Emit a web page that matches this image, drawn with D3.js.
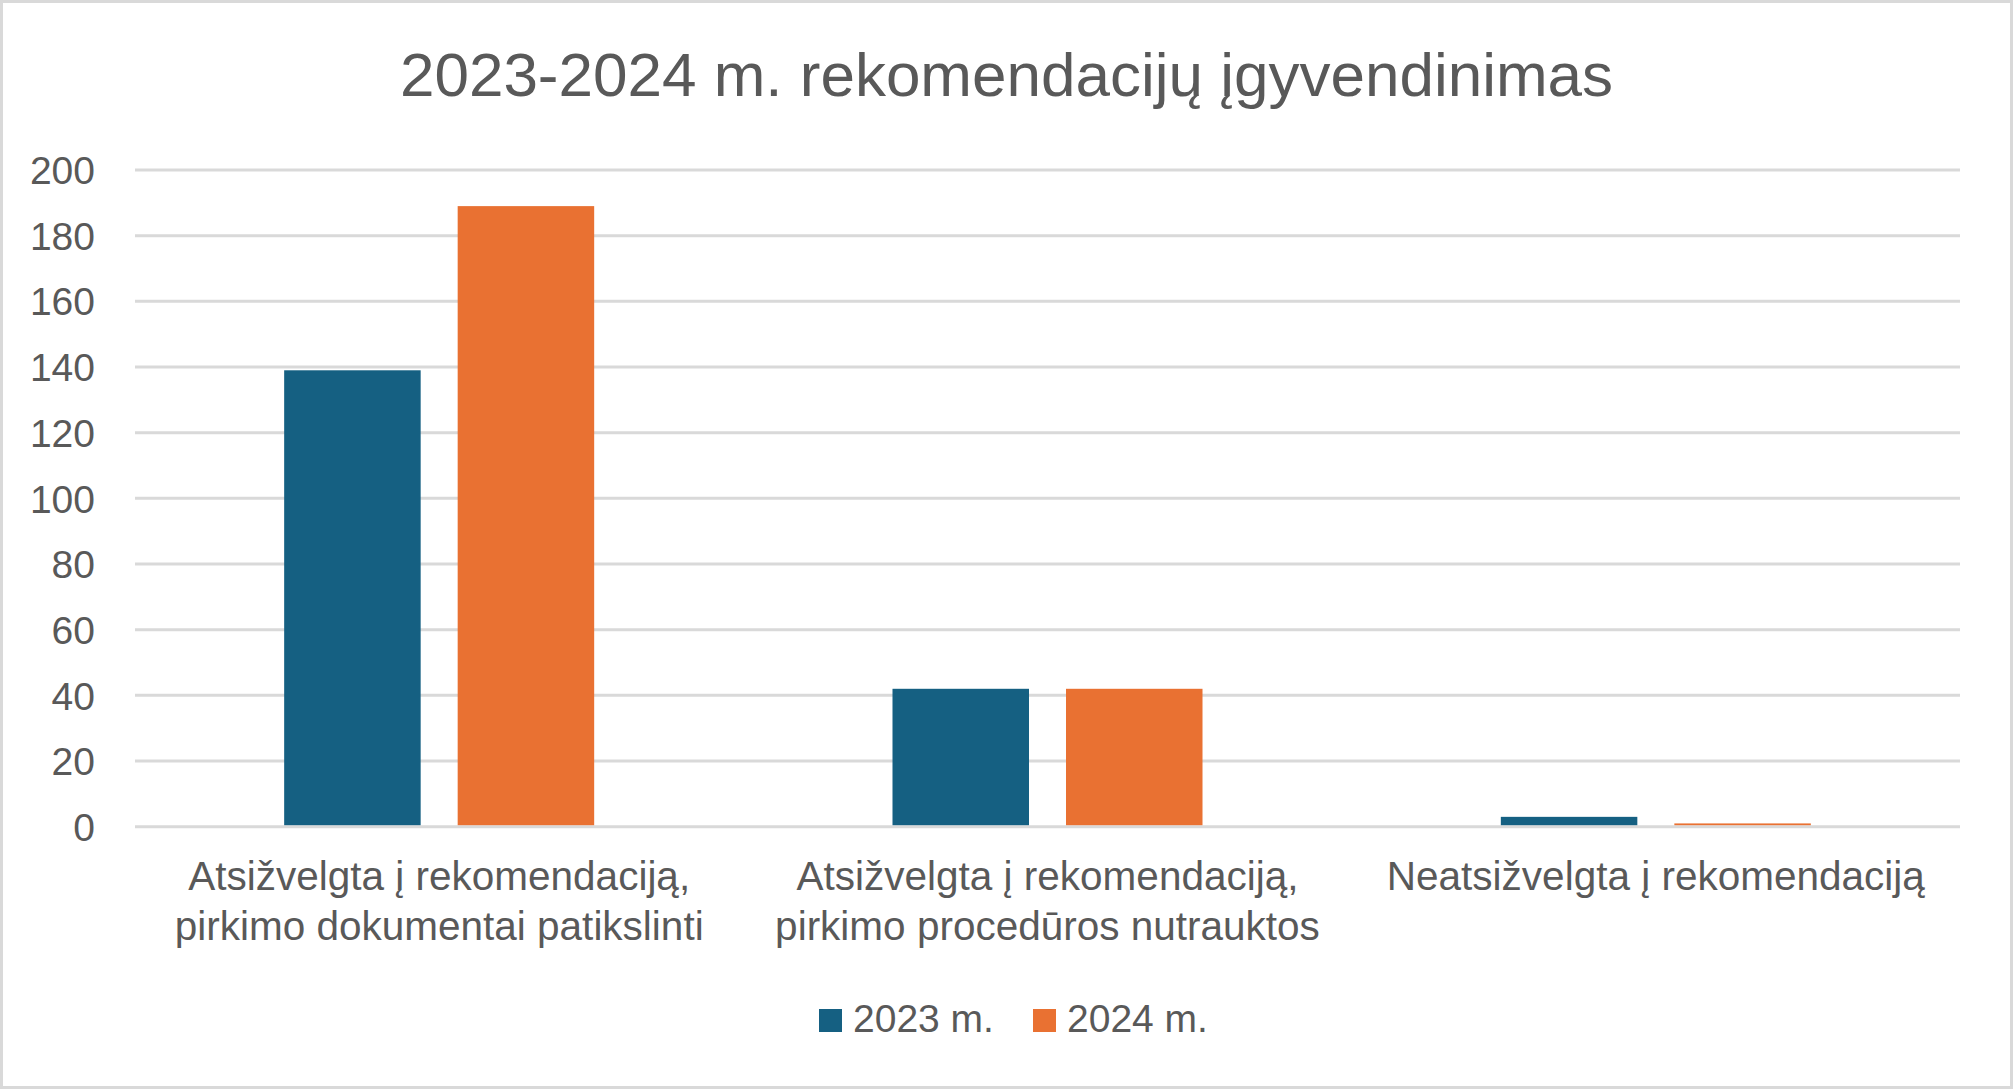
<!DOCTYPE html>
<html>
<head>
<meta charset="utf-8">
<script src="https://cdn.jsdelivr.net/npm/d3@7"></script>
<style>
  html, body { margin: 0; padding: 0; background: #fff; }
  svg { display: block; }
  text { font-family: "Liberation Sans", Arial, sans-serif; fill: #595959; }
</style>
</head>
<body>
<svg id="chart" width="2013" height="1089"></svg>
<script>
const title = "2023-2024 m. rekomendacijų įgyvendinimas";
const categories = [
  ["Atsižvelgta į rekomendaciją,", "pirkimo dokumentai patikslinti"],
  ["Atsižvelgta į rekomendaciją,", "pirkimo procedūros nutrauktos"],
  ["Neatsižvelgta į rekomendaciją"]
];
const seriesNames = ["2023 m.", "2024 m."];
const values2023 = [139, 42, 3];
const values2024 = [189, 42, 1];
const yTicks = [0, 20, 40, 60, 80, 100, 120, 140, 160, 180, 200];
const colors = ["#156082", "#E97132"];

const W = 2013, H = 1089;
const margin = { left: 135, right: 53, top: 170, bottom: 262.3 };
const svg = d3.select("#chart");

// frame
svg.append("rect")
  .attr("x", 1.5).attr("y", 1.5)
  .attr("width", W - 3).attr("height", H - 3)
  .attr("fill", "#fff").attr("stroke", "#D9D9D9").attr("stroke-width", 3);

// title
svg.append("text")
  .attr("x", W / 2).attr("y", 96)
  .attr("text-anchor", "middle")
  .style("font-size", "62px")
  .text(title);

const catIdx = categories.map((c, i) => i);
const x0 = d3.scaleBand().domain(catIdx).range([margin.left, W - margin.right]).padding(0);
const bw = x0.bandwidth();
const gw = bw * 0.5096;
const x1 = d3.scaleBand().domain([0, 1])
  .range([(bw - gw) / 2, (bw + gw) / 2])
  .paddingInner(0.2133).paddingOuter(0);
const y = d3.scaleLinear().domain([0, 200]).range([H - margin.bottom, margin.top]);

// y axis labels
const yAxis = d3.axisLeft(y).tickValues(yTicks).tickSize(0).tickPadding(40);
const ga = svg.append("g").attr("transform", `translate(${margin.left},0)`).call(yAxis);
ga.select(".domain").remove();
ga.selectAll("text").style("font-size", "39px").attr("fill", "#595959")
  .attr("font-family", null).attr("dy", "0.35em");

// gridlines
svg.append("g").selectAll("line").data(yTicks).join("line")
  .attr("x1", margin.left).attr("x2", W - margin.right)
  .attr("y1", d => y(d)).attr("y2", d => y(d))
  .attr("stroke", "#D9D9D9").attr("stroke-width", 3);

// bars
const series = [values2023, values2024];
const groups = svg.append("g").selectAll("g").data(catIdx).join("g")
  .attr("transform", d => `translate(${x0(d)},0)`);
groups.selectAll("rect").data(ci => series.map((s, si) => ({ si, v: s[ci] }))).join("rect")
  .attr("x", d => x1(d.si))
  .attr("width", x1.bandwidth())
  .attr("y", d => y(d.v))
  .attr("height", d => y(0) - y(d.v) - 1.5)
  .attr("fill", d => colors[d.si]);

// category labels
const catG = svg.append("g");
categories.forEach((lines, i) => {
  const t = catG.append("text")
    .attr("x", x0(i) + bw / 2).attr("y", 890)
    .attr("text-anchor", "middle")
    .style("font-size", "40.5px");
  lines.forEach((ln, j) => {
    t.append("tspan").attr("x", x0(i) + bw / 2).attr("dy", j === 0 ? 0 : 50).text(ln);
  });
});

// legend
const legendItems = [
  { name: seriesNames[0], color: colors[0], x: 819 },
  { name: seriesNames[1], color: colors[1], x: 1033 }
];
const lg = svg.append("g");
legendItems.forEach(it => {
  lg.append("rect").attr("x", it.x).attr("y", 1009).attr("width", 23).attr("height", 23).attr("fill", it.color);
  lg.append("text").attr("x", it.x + 34).attr("y", 1032).style("font-size", "39px").text(it.name);
});
</script>
</body>
</html>
